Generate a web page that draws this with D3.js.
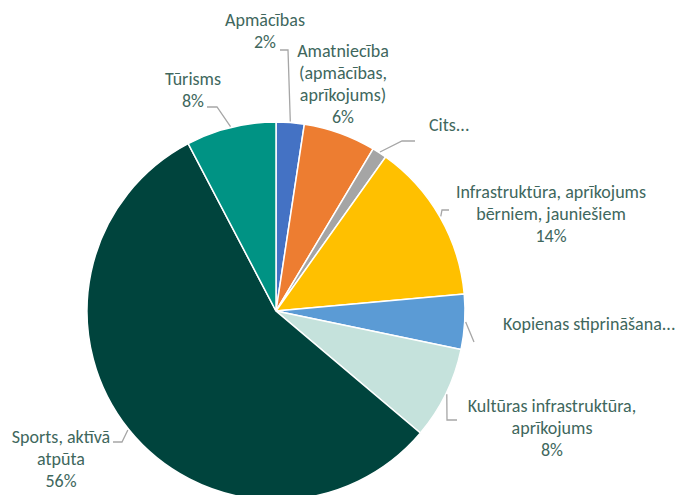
<!DOCTYPE html>
<head>
  <meta charset="utf-8">
  <script src="https://d3js.org/d3.v7.min.js"></script>
  <style>
    body { margin: 0; background: #fff; }
    svg { display: block; }
    .lbl { font-family: Carlito, Calibri, Lato, sans-serif; font-size: 18px; fill: #40675d; }
  </style>
</head>
<body>
<script>
  // data
  var categories = ["Apmācības", "Amatniecība (apmācības, aprīkojums)", "Cits", "Infrastruktūra, aprīkojums bērniem, jauniešiem",
                    "Kopienas stiprināšana", "Kultūras infrastruktūra, aprīkojums", "Sports, aktīvā atpūta", "Tūrisms"];
  var values = [2.4, 6.2, 1.25, 13.75, 4.7, 7.9, 56.2, 7.7];
  var pctLabels = ["2%", "6%", "", "14%", "", "8%", "56%", "8%"];
  var colors = ["#4472c4", "#ed7d31", "#a5a5a5", "#ffc000", "#5b9bd5", "#c5e2dc", "#00443d", "#009384"];

  // label text lines as shown on chart (some names are cut)
  var labelLines = [
    ["Apmācības"], ["Amatniecība", "(apmācības,", "aprīkojums)"], ["Cits..."],
    ["Infrastruktūra, aprīkojums", "bērniem, jauniešiem"], ["Kopienas stiprināšana..."],
    ["Kultūras infrastruktūra,", "aprīkojums"], ["Sports, aktīvā", "atpūta"], ["Tūrisms"]
  ];

  var w = 676, h = 495;
  var cx = 276, cy = 311, r = 189;

  // label layout: x anchor, first baseline, anchor, leader bends
  var layout = [
    { x: 265, y: 26, a: "middle", lead: [[288, 50], [280, 50]] },
    { x: 343, y: 57, a: "middle", lead: [] },
    { x: 429, y: 131, a: "start", lead: [[402, 141], [415, 141]] },
    { x: 551, y: 198, a: "middle", lead: [[442, 210], [449, 210]] },
    { x: 503, y: 330, a: "start", lead: [[474, 342]] },
    { x: 552, y: 412, a: "middle", lead: [[447, 420], [457, 420]] },
    { x: 61, y: 443, a: "middle", lead: [[122, 442], [113, 442]] },
    { x: 193, y: 85, a: "middle", lead: [[217, 107], [207, 107]] }
  ];

  var svg = d3.select("body").append("svg")
    .attr("width", w).attr("height", h);

  var pie = d3.pie().sort(null).value(function(d) { return d; });
  var arc = d3.arc().innerRadius(0).outerRadius(r);
  var arcs = pie(values);

  var g = svg.append("g").attr("transform", "translate(" + cx + "," + cy + ")");

  g.selectAll("path.slice")
    .data(arcs)
    .enter().append("path")
    .attr("class", "slice")
    .attr("d", arc)
    .attr("fill", function(d, i) { return colors[i]; })
    .attr("stroke", "#fff")
    .attr("stroke-width", 1.5);

  // leader lines, starting on the rim at each slice's middle angle
  var line = d3.line();
  arcs.forEach(function(d, i) {
    var L = layout[i];
    if (!L.lead.length) return;
    var m = (d.startAngle + d.endAngle) / 2;
    var start = [cx + (r + 1) * Math.sin(m), cy - (r + 1) * Math.cos(m)];
    svg.append("path")
      .attr("d", line([start].concat(L.lead)))
      .attr("fill", "none")
      .attr("stroke", "#a6a6a6")
      .attr("stroke-width", 1.3);
  });

  // labels
  labelLines.forEach(function(lines, i) {
    var L = layout[i];
    var all = lines.slice();
    if (pctLabels[i]) all.push(pctLabels[i]);
    var t = svg.append("text").attr("class", "lbl").attr("text-anchor", L.a);
    all.forEach(function(s, k) {
      t.append("tspan").attr("x", L.x).attr("y", L.y + k * 22).text(s);
    });
  });
</script>
</body>
